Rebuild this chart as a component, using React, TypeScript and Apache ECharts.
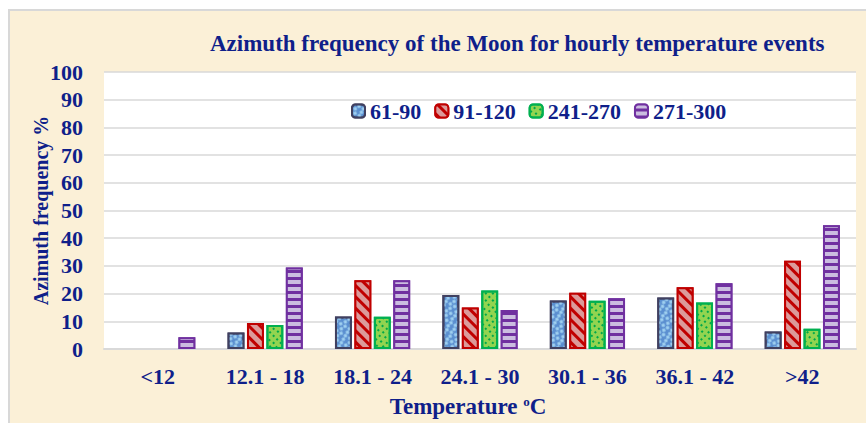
import React, { useEffect, useRef } from "react";
import * as echarts from "echarts";

const categories = ["<12", "12.1 - 18", "18.1 - 24", "24.1 - 30", "30.1 - 36", "36.1 - 42", ">42"];
const seriesNames = ["61-90", "91-120", "241-270", "271-300"];
const s61_90 = [0, 6.0, 11.7, 19.5, 17.5, 18.6, 6.3];
const s91_120 = [0, 9.4, 24.8, 15.0, 20.3, 22.3, 31.9];
const s241_270 = [0, 8.7, 11.6, 21.1, 17.4, 16.8, 7.3];
const s271_300 = [4.2, 29.4, 24.8, 14.1, 18.3, 23.7, 44.7];
const yTicks = [0, 10, 20, 30, 40, 50, 60, 70, 80, 90, 100];

const NAVY = "#0f1f8a";
const FONT = "'Liberation Serif', 'DejaVu Serif', serif";

export default function App() {
  const ref = useRef<HTMLDivElement>(null);
  useEffect(() => {
    if (!ref.current) return;
    const chart = echarts.init(ref.current, undefined, { renderer: "svg" });
    const textBase = { color: NAVY, fontFamily: FONT, fontWeight: "bold" as const, fontSize: 22 };
    const mk = (name: string, data: number[], fill: string, border: string, decal: any) => ({
      name,
      type: "bar",
      data: data.map((v) => (v === 0 ? { value: 0, itemStyle: { borderWidth: 0 } } : v)),
      barGap: "15%",
      barCategoryGap: "30%",
      itemStyle: { color: fill, borderColor: border, borderWidth: 2, decal },
    });
    chart.setOption({
      animation: false,
      backgroundColor: "#ffffff",
      aria: { enabled: true, decal: { show: true } },
      graphic: [
        {
          type: "rect",
          z: -100,
          shape: { x: 9, y: 10, width: 870, height: 420 },
          style: { fill: "#fbf0d7", stroke: "#d8d8d8", lineWidth: 2 },
        },
      ],
      title: {
        text: "Azimuth frequency of the Moon for hourly temperature events",
        left: 205,
        top: 27,
        textStyle: { ...textBase, fontSize: 23 },
      },
      legend: {
        data: seriesNames,
        left: 346,
        top: 95,
        itemWidth: 13,
        itemHeight: 13,
        itemGap: 13,
        textStyle: { ...textBase },
      },
      grid: {
        left: 104,
        right: 10,
        top: 72,
        bottom: 73,
        show: true,
        backgroundColor: "#ffffff",
        borderWidth: 0,
      },
      xAxis: {
        type: "category",
        data: categories,
        axisTick: { show: false },
        axisLine: { lineStyle: { color: "#d9d9d9", width: 2 } },
        axisLabel: { ...textBase, margin: 16 },
        name: "Temperature {sup|o}C",
        nameLocation: "middle",
        nameGap: 46,
        nameMoveOverlap: false,
        nameTextStyle: {
          ...textBase,
          fontSize: 23,
          padding: [0, 24, 0, 0],
          rich: { sup: { ...textBase, fontSize: 13, verticalAlign: "top", padding: [0, 0, 9, 0] } },
        },
      },
      yAxis: {
        type: "value",
        min: 0,
        max: 100,
        interval: 10,
        axisLine: { show: false },
        axisTick: { show: false },
        splitLine: { lineStyle: { color: "#d9d9d9", width: 1.5 } },
        axisLabel: { ...textBase, margin: 21, formatter: (v: number) => (yTicks.includes(v) ? String(v) : "") },
        name: "Azimuth frequency %",
        nameLocation: "middle",
        nameGap: 53,
        nameMoveOverlap: false,
        nameTextStyle: { ...textBase, fontSize: 20 },
      },
      series: [
        mk(seriesNames[0], s61_90, "#5b8fd0", "#404060", {
          symbol: "circle",
          symbolSize: 0.9,
          color: "#9fd0f0",
          dashArrayX: [[4, 1], [0, 2.5, 4, 0]],
          dashArrayY: [4, 0],
        }),
        mk(seriesNames[1], s91_120, "#c00000", "#c00000", {
          symbol: "rect",
          symbolSize: 1,
          color: "#dc9a9a",
          dashArrayX: [1, 0],
          dashArrayY: [4.5, 2.5],
          rotation: Math.PI / 4,
        }),
        mk(seriesNames[2], s241_270, "#92d450", "#00b050", {
          symbol: "rect",
          symbolSize: 1,
          color: "#00a84a",
          dashArrayX: [[2, 3], [0, 2.5, 2, 0.5]],
          dashArrayY: [2, 2.5],
        }),
        mk(seriesNames[3], s271_300, "#7030a0", "#7030a0", {
          symbol: "rect",
          symbolSize: 1,
          color: "#cbbde0",
          dashArrayX: [1, 0],
          dashArrayY: [4, 2.5],
        }),
      ],
    });
    return () => chart.dispose();
  }, []);
  return <div ref={ref} style={{ position: "fixed", left: 0, top: 0, width: 866, height: 423 }} />;
}
